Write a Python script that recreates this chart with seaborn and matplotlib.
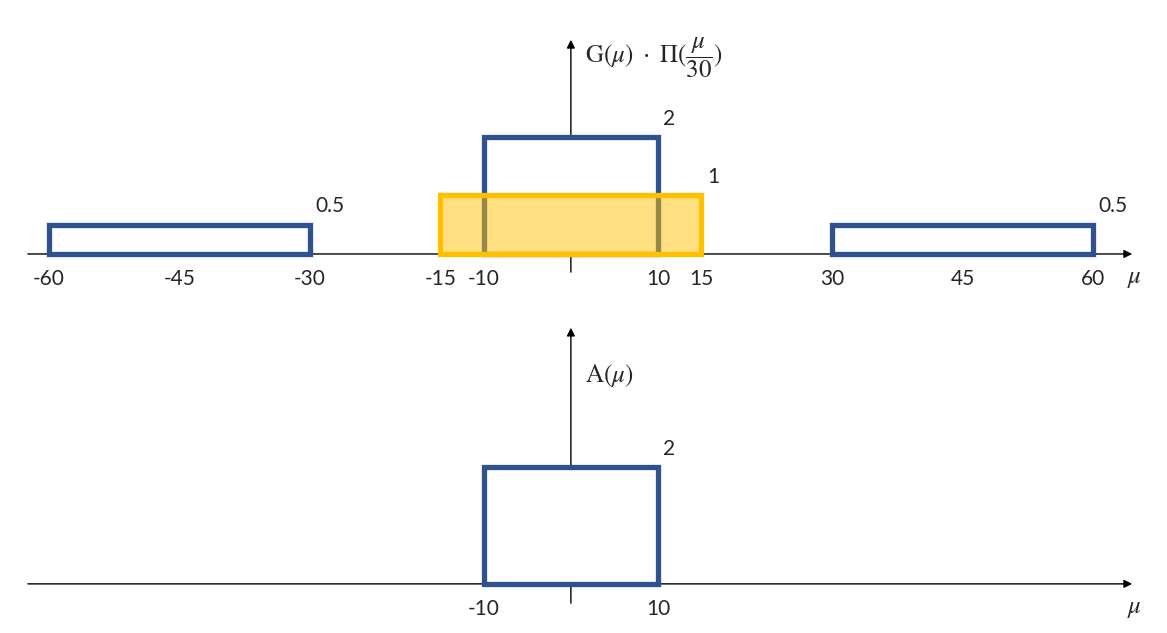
import matplotlib
matplotlib.use("Agg")
import matplotlib.pyplot as plt
import seaborn as sns

# G(mu) boxes: left edge, right edge, height
g_left = [-60, -10, 30]
g_right = [-30, 10, 60]
g_height = [0.5, 2, 0.5]
g_labels = ["0.5", "2", "0.5"]

# rectangular window Pi(mu/30)
win_left = [-15]
win_right = [15]
win_height = [1]
win_labels = ["1"]

# result A(mu)
a_left = [-10]
a_right = [10]
a_height = [2]
a_labels = ["2"]

top_ticks = [-60, -45, -30, -15, -10, 10, 15, 30, 45, 60]
bottom_ticks = [-10, 10]

top_ylabel = r"$\mathrm{G}(\mu)\ \cdot\ \Pi(\dfrac{\mu}{30})$"
bottom_ylabel = r"$\mathrm{A}(\mu)$"

blue = "#2F528F"
yellow = "#FFC000"

sns.set_theme(style="white")
plt.rcParams["font.family"] = ["Lato", "DejaVu Sans"]
plt.rcParams["mathtext.fontset"] = "stix"

fig = plt.figure(figsize=(11.67, 6.33), dpi=100)
ax_top = fig.add_axes([0, 1 - 316 / 633, 1, 316 / 633])
ax_bot = fig.add_axes([0, 0, 1, 317 / 633])

xlim = (-65.6, 68.5)
ax_top.set_xlim(*xlim)
ax_top.set_ylim(-1.06, 4.34)
ax_bot.set_xlim(*xlim)
ax_bot.set_ylim(-0.84, 4.58)


def draw_axes(ax, y_bottom, y_top):
    arrow = dict(arrowstyle="-|>", color="black", lw=1, mutation_scale=12, shrinkA=0, shrinkB=0)
    ax.annotate("", xy=(64.5, 0), xytext=(-62.4, 0), arrowprops=arrow, zorder=1)
    ax.annotate("", xy=(0, y_top), xytext=(0, y_bottom), arrowprops=arrow, zorder=1)
    ax.text(64.8, -0.42, r"$\mu$", fontsize=18, ha="center", va="center")


def draw_boxes(ax, left, right, height, labels, face, edge, alpha_face, z):
    widths = [r - l for l, r in zip(left, right)]
    bars = ax.bar(left, height, width=widths, align="edge", color=face,
                  edgecolor=edge, linewidth=3.8, zorder=z)
    for b in bars:
        b.set_facecolor(matplotlib.colors.to_rgba(face, alpha_face))
    for r, h, lab in zip(right, height, labels):
        ax.annotate(lab, xy=(r, h), xytext=(4, 6), textcoords="offset points",
                    ha="left", va="bottom", fontsize=15)


def draw_ticks(ax, ticks):
    for t in ticks:
        ax.annotate(str(t), xy=(t, 0), xytext=(0, -11), textcoords="offset points",
                    ha="center", va="top", fontsize=15)


# top panel
draw_axes(ax_top, -0.31, 3.66)
draw_boxes(ax_top, g_left, g_right, g_height, g_labels, "white", blue, 1.0, 2)
draw_boxes(ax_top, win_left, win_right, win_height, win_labels, yellow, yellow, 0.5, 3)
draw_ticks(ax_top, top_ticks)
ax_top.text(1.6, 3.35, top_ylabel, fontsize=18, ha="left", va="center")

# bottom panel
draw_axes(ax_bot, -0.33, 4.38)
draw_boxes(ax_bot, a_left, a_right, a_height, a_labels, "white", blue, 1.0, 2)
draw_ticks(ax_bot, bottom_ticks)
ax_bot.text(1.6, 3.56, bottom_ylabel, fontsize=18, ha="left", va="center")

for ax in (ax_top, ax_bot):
    ax.axis("off")

fig.savefig("out.png", dpi=100, facecolor="white")
